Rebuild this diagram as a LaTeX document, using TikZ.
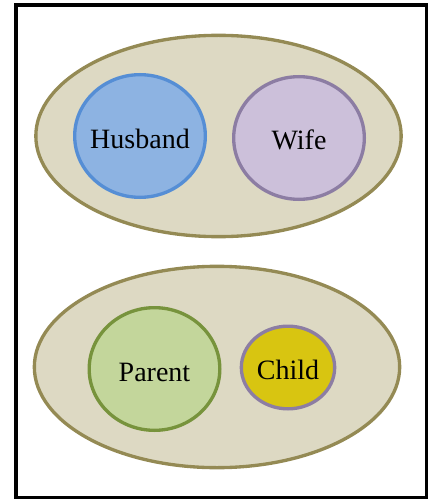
\documentclass[tikz,border=0pt]{standalone}
\usepackage{fontspec}
\setmainfont{Liberation Serif}
\usetikzlibrary{shapes.geometric}

\definecolor{tanfill}{HTML}{DDD9C3}
\definecolor{tanline}{HTML}{948A54}
\definecolor{bluefill}{HTML}{8DB3E2}
\definecolor{blueline}{HTML}{558ED5}
\definecolor{lilacfill}{HTML}{CCC0DA}
\definecolor{lilacline}{HTML}{8C7DA3}
\definecolor{greenfill}{HTML}{C3D69B}
\definecolor{greenline}{HTML}{77933C}
\definecolor{goldfill}{HTML}{D8C511}

\begin{document}
\begin{tikzpicture}[x=0.75pt, y=-0.75pt,
  every node/.style={ellipse, inner sep=0pt, line width=2.5pt},
  every label/.style={rectangle, draw=none, fill=none, inner sep=0pt, text height=18pt, text depth=0pt, font=\fontsize{21}{25}\selectfont},
  group/.style={draw=tanline, fill=tanfill, minimum width=274pt, minimum height=151pt},
  member/.style={minimum width=98pt, minimum height=92pt}]
\useasboundingbox (0,0) rectangle (428,499);

% couple
\node[group] (marriage) at (218.5,136) {};
\node[member, draw=blueline, fill=bluefill, label=center:Husband] (husband) at (140,136) {};
\node[member, draw=lilacline, fill=lilacfill, label=center:Wife] (wife) at (299,138) {};

% family
\node[group] (family) at (217,367) {};
\node[member, draw=greenline, fill=greenfill, label=center:Parent] (parent) at (154.5,369) {};
\node[draw=lilacline, fill=goldfill, minimum width=70pt, minimum height=62pt, label=center:Child] (child) at (288,367.5) {};

\draw[line width=2.6pt] (16,5) rectangle (426.5,498);
\end{tikzpicture}
\end{document}
